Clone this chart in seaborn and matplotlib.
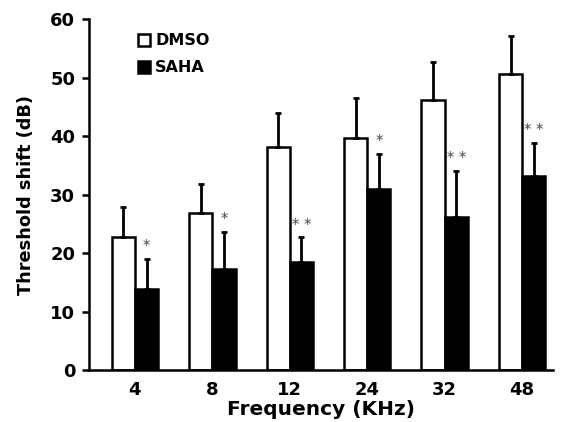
import pandas as pd
import matplotlib.pyplot as plt
import seaborn as sns

# Du lieu doc tu hinh
freqs = ['4', '8', '12', '24', '32', '48']
dmso_mean = [22.7, 26.8, 38.1, 39.6, 46.2, 50.6]
dmso_sd = [5.2, 5.0, 5.8, 6.9, 6.5, 6.5]
saha_mean = [13.8, 17.3, 18.5, 30.9, 26.2, 33.2]
saha_sd = [5.2, 6.3, 4.2, 6.0, 7.8, 5.6]
stars = ['*', '*', '* *', '*', '* *', '* *']

df = pd.DataFrame({
    'Frequency': freqs * 2,
    'Shift': dmso_mean + saha_mean,
    'Group': ['DMSO'] * len(freqs) + ['SAHA'] * len(freqs),
})

sns.set_style('ticks')
plt.rcParams['font.family'] = ['DejaVu Sans']
plt.rcParams['text.color'] = 'black'
plt.rcParams['axes.labelcolor'] = 'black'
plt.rcParams['xtick.color'] = 'black'
plt.rcParams['ytick.color'] = 'black'
plt.rcParams['axes.edgecolor'] = 'black'

fig = plt.figure(figsize=(5.61, 4.22), dpi=100)
ax = fig.add_axes([0.159, 0.123, 0.827, 0.832])

sns.barplot(data=df, x='Frequency', y='Shift', hue='Group', order=freqs,
            palette={'DMSO': 'white', 'SAHA': 'black'}, edgecolor='black',
            linewidth=1.8, width=0.6, errorbar=None, ax=ax)

# Thanh sai so chi huong len
groups = [(dmso_mean, dmso_sd), (saha_mean, saha_sd)]
bar_containers = list(ax.containers)
for k, cont in enumerate(bar_containers):
    means, sds = groups[k]
    xs = [p.get_x() + p.get_width() / 2 for p in cont.patches]
    ax.errorbar(xs, means, yerr=[[0] * len(means), sds], fmt='none',
                ecolor='black', elinewidth=2, capsize=2.5, capthick=2, zorder=3)
    if k == 1:
        for x, m, s, st in zip(xs, means, sds, stars):
            ax.text(x, m + s + 0.8, st, ha='center', va='bottom',
                    fontsize=10.5, color='#444444')

ax.set_ylim(0, 60)
ax.set_xlim(-0.59, 5.4)
ax.set_yticks(range(0, 61, 10))
ax.tick_params(axis='y', length=5, width=1.8, labelsize=13, pad=5)
ax.tick_params(axis='x', length=0, labelsize=13, pad=8)
for lab in ax.get_xticklabels() + ax.get_yticklabels():
    lab.set_fontweight('bold')
for s in ['left', 'bottom']:
    ax.spines[s].set_linewidth(1.8)
sns.despine(ax=ax)

ax.set_xlabel('Frequency (KHz)', fontsize=14.5, fontweight='bold', labelpad=0.5)
ax.set_ylabel('Threshold shift (dB)', fontsize=12.8, fontweight='bold', labelpad=11)

leg = ax.legend(loc='upper left', bbox_to_anchor=(0.075, 1.0), frameon=False,
                prop={'weight': 'bold', 'size': 11.5}, handlelength=0.75,
                handleheight=0.75, handletextpad=0.3, labelspacing=0.75)

plt.savefig('out.png', dpi=100)
